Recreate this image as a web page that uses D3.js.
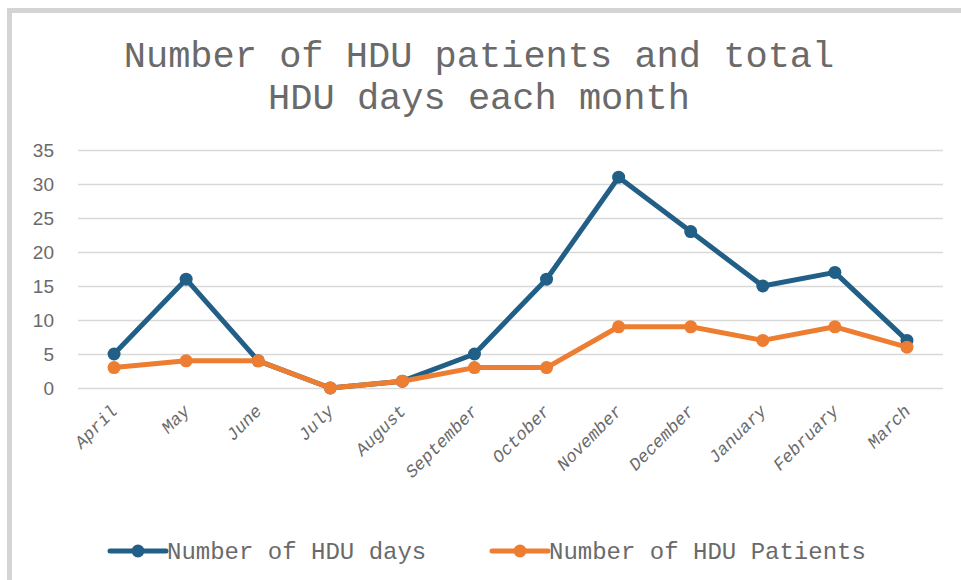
<!DOCTYPE html>
<html><head><meta charset="utf-8">
<script src="https://cdn.jsdelivr.net/npm/d3@7"></script>
<style>body{margin:0;background:#fff}svg{display:block}</style>
</head><body>
<svg id="c" width="961" height="580"></svg>
<script>
const months = ["April","May","June","July","August","September","October","November","December","January","February","March"];
const hduDays = [5,16,4,0,1,5,16,31,23,15,17,7];
const hduPatients = [3,4,4,0,1,3,3,9,9,7,9,6];
const yTicks = [0,5,10,15,20,25,30,35];
const seriesNames = ["Number of HDU days","Number of HDU Patients"];
const colors = ["#215f86","#ed7d31"];

const svg = d3.select("#c");
svg.append("rect").attr("x",9.5).attr("y",10.5).attr("width",970).attr("height",600)
  .attr("fill","#fff").attr("stroke","#d4d4d4").attr("stroke-width",5);

const mono = "'Liberation Mono','Courier New',monospace";
const textGray = "#6a6a6a";
svg.append("text").attr("x",479).attr("y",67).attr("text-anchor","middle")
  .attr("font-family",mono).attr("font-size",37).attr("fill",textGray).text("Number of HDU patients and total");
svg.append("text").attr("x",479).attr("y",109).attr("text-anchor","middle")
  .attr("font-family",mono).attr("font-size",37).attr("fill",textGray).text("HDU days each month");

const x = d3.scalePoint().domain(months).range([78,943]).padding(0.5);
const y = d3.scaleLinear().domain([0,35]).range([388,150]);

const yAxis = svg.append("g").attr("transform","translate(78,0)")
  .call(d3.axisLeft(y).tickValues(yTicks).tickSize(-865).tickPadding(24));
yAxis.select(".domain").remove();
yAxis.selectAll(".tick line").attr("stroke","#d9d9d9").attr("stroke-width",1.5);
yAxis.selectAll(".tick text").attr("font-family","'Liberation Sans',Arial,sans-serif")
  .attr("font-size",19).attr("fill","#6a6a6a").attr("dy","0.36em");

const xAxis = svg.append("g").attr("transform","translate(0,388)")
  .call(d3.axisBottom(x).tickSize(0));
xAxis.select(".domain").remove();
xAxis.selectAll(".tick text")
  .attr("font-family",mono).attr("font-style","italic").attr("font-size",17.5).attr("fill",textGray)
  .attr("text-anchor","end").attr("dy",0).attr("y",0)
  .attr("transform","translate(4,24) rotate(-45)");

const data = [hduDays, hduPatients];
const line = d3.line().x((d,i)=>x(months[i])).y(d=>y(d));
data.forEach((s,k)=>{
  svg.append("path").datum(s).attr("d",line).attr("fill","none")
    .attr("stroke",colors[k]).attr("stroke-width",5).attr("stroke-linejoin","round");
  svg.selectAll(null).data(s).enter().append("circle")
    .attr("cx",(d,i)=>x(months[i])).attr("cy",d=>y(d)).attr("r",6.5).attr("fill",colors[k]);
});

const legX = [110, 492];
seriesNames.forEach((n,k)=>{
  const g = svg.append("g").attr("transform",`translate(${legX[k]},551)`);
  g.append("line").attr("x1",0).attr("x2",56).attr("stroke",colors[k]).attr("stroke-width",5).attr("stroke-linecap","round");
  g.append("circle").attr("cx",28).attr("r",6.5).attr("fill",colors[k]);
  g.append("text").attr("x",57).attr("y",8).attr("font-family",mono).attr("font-size",24)
    .attr("fill",textGray).text(n);
});
</script>
</body></html>
